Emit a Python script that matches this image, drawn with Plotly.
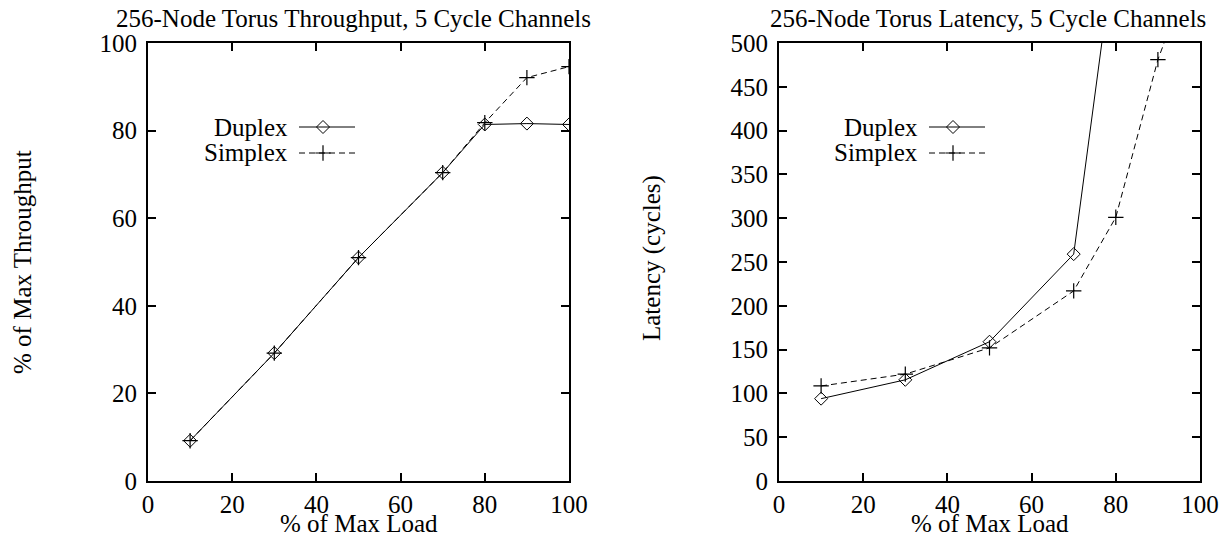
import plotly.graph_objects as go

# ---- data ----
load = [10, 30, 50, 70, 80, 90, 100]
thr_duplex = [9.2, 29.2, 51.0, 70.4, 81.4, 81.6, 81.4]
thr_simplex = [9.2, 29.2, 51.0, 70.4, 81.8, 92.1, 94.6]
lat_duplex = [94, 115.5, 159, 259, 620, 800, 900]
lat_simplex = [108.5, 122, 152, 217, 301, 481, 610]

x_ticks = [0, 20, 40, 60, 80, 100]
thr_ticks = [0, 20, 40, 60, 80, 100]
lat_ticks = [0, 50, 100, 150, 200, 250, 300, 350, 400, 450, 500]

titles = ["256-Node Torus Throughput, 5 Cycle Channels",
          "256-Node Torus Latency, 5 Cycle Channels"]
series_names = ["Duplex", "Simplex"]

FONT = dict(family="Liberation Serif, Times New Roman, serif", size=25, color="black")
W, H = 1222, 538

fig = go.Figure()

dup_style = dict(line=dict(color="black", width=1),
                 marker=dict(symbol="diamond-open", size=10, color="black", line=dict(width=1)))
sim_style = dict(line=dict(color="black", width=1, dash="6px,4px"),
                 marker=dict(symbol="cross-thin-open", size=11, color="black", line=dict(width=1.2, color="black")))

fig.add_trace(go.Scatter(x=load, y=thr_duplex, mode="lines+markers", xaxis="x", yaxis="y",
                         showlegend=False, **dup_style))
fig.add_trace(go.Scatter(x=load, y=thr_simplex, mode="lines+markers", xaxis="x", yaxis="y",
                         showlegend=False, **sim_style))
fig.add_trace(go.Scatter(x=load, y=lat_duplex, mode="lines+markers", xaxis="x2", yaxis="y2",
                         showlegend=False, **dup_style))
fig.add_trace(go.Scatter(x=load, y=lat_simplex, mode="lines+markers", xaxis="x2", yaxis="y2",
                         showlegend=False, **sim_style))

# ---- manual legends (text left of sample, gnuplot style) on a full-figure pixel axis ----
legend_pos = [(290, 299, 355, 323), (920, 929, 985, 953)]  # text right edge, line x0, x1, marker x
row_y = [127, 153]
annotations = []
for (tx, lx0, lx1, mx) in legend_pos:
    for i, name in enumerate(series_names):
        style = dup_style if i == 0 else sim_style
        fig.add_trace(go.Scatter(x=[lx0, lx1], y=[row_y[i], row_y[i]], mode="lines",
                                 xaxis="x3", yaxis="y3", showlegend=False, hoverinfo="skip",
                                 line=style["line"]))
        fig.add_trace(go.Scatter(x=[mx], y=[row_y[i]], mode="markers",
                                 xaxis="x3", yaxis="y3", showlegend=False, hoverinfo="skip",
                                 marker=style["marker"]))
        annotations.append(dict(text=name, x=tx / W, y=1 - row_y[i] / H, xref="paper", yref="paper",
                                xanchor="right", yanchor="middle", showarrow=False, font=FONT))

dom_y = [1 - 481 / H, 1 - 43 / H]
dom_x1 = [148 / W, 569 / W]
dom_x2 = [779 / W, 1200 / W]

axis_common = dict(showline=True, linecolor="black", linewidth=2, mirror="ticks",
                   ticks="inside", ticklen=8, tickwidth=1.5, tickcolor="black",
                   showgrid=False, zeroline=False, tickfont=FONT, automargin=False)

fig.update_layout(
    template="none",
    width=W, height=H, margin=dict(l=0, r=0, t=0, b=0, pad=0), autosize=False,
    paper_bgcolor="white", plot_bgcolor="rgba(0,0,0,0)", font=FONT,
    xaxis=dict(domain=dom_x1, range=[0, 100], tickvals=x_ticks, anchor="y", **axis_common),
    yaxis=dict(domain=dom_y, range=[0, 100], tickvals=thr_ticks, anchor="x",
               ticklabelstandoff=4, **axis_common),
    xaxis2=dict(domain=dom_x2, range=[0, 100], tickvals=x_ticks, anchor="y2", **axis_common),
    yaxis2=dict(domain=dom_y, range=[0, 500], tickvals=lat_ticks, anchor="x2",
                ticklabelstandoff=4, **axis_common),
    xaxis3=dict(domain=[0, 1], range=[0, W], visible=False, anchor="y3", automargin=False),
    yaxis3=dict(domain=[0, 1], range=[H, 0], visible=False, anchor="x3", automargin=False),
)

annotations += [
    dict(text=titles[0], x=353 / W, y=1 - 19 / H, xref="paper", yref="paper",
         xanchor="center", yanchor="middle", showarrow=False, font=FONT),
    dict(text=titles[1], x=987.5 / W, y=1 - 19 / H, xref="paper", yref="paper",
         xanchor="center", yanchor="middle", showarrow=False, font=FONT),
    dict(text="% of Max Load", x=(148 + 569) / 2 / W, y=1 - 523 / H, xref="paper", yref="paper",
         xanchor="center", yanchor="middle", showarrow=False, font=FONT),
    dict(text="% of Max Load", x=(779 + 1200) / 2 / W, y=1 - 523 / H, xref="paper", yref="paper",
         xanchor="center", yanchor="middle", showarrow=False, font=FONT),
    dict(text="% of Max Throughput", x=22 / W, y=1 - 262 / H, xref="paper", yref="paper",
         xanchor="center", yanchor="middle", showarrow=False, textangle=-90, font=FONT),
    dict(text="Latency (cycles)", x=652 / W, y=1 - 258 / H, xref="paper", yref="paper",
         xanchor="center", yanchor="middle", showarrow=False, textangle=-90, font=FONT),
]
fig.update_layout(annotations=annotations)

fig.write_html("out.html")
